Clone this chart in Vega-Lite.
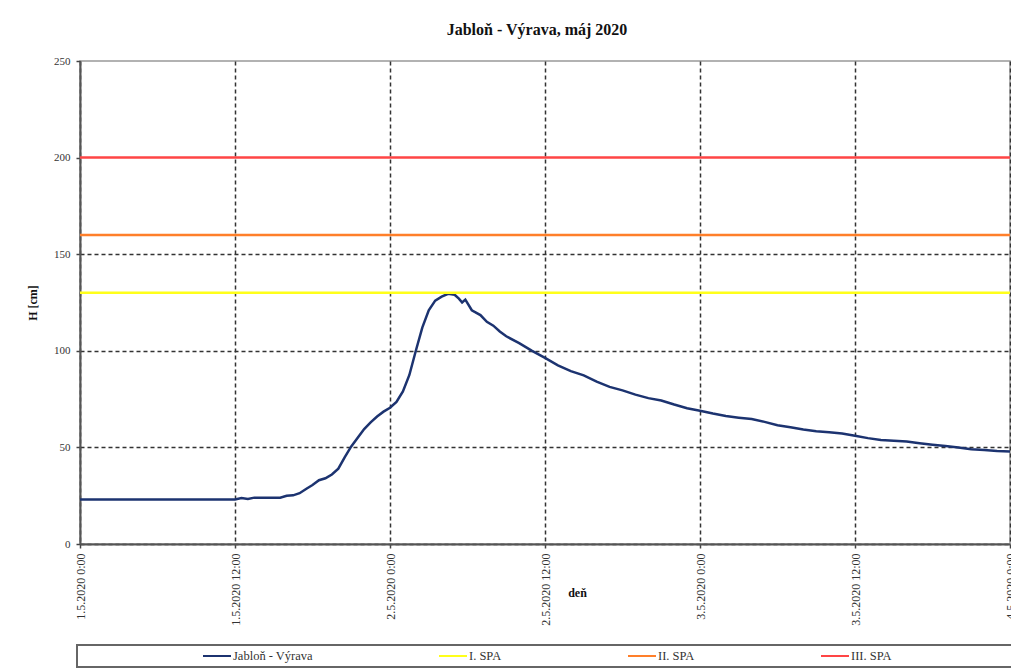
{
  "$schema": "https://vega.github.io/schema/vega-lite/v6.json",
  "autosize": "none",
  "width": 930,
  "height": 483,
  "padding": {"left": 80, "top": 61, "right": 1, "bottom": 125},
  "background": "white",
  "title": {
    "text": "Jabloň - Výrava, máj 2020",
    "font": "Liberation Serif",
    "fontSize": 16,
    "fontWeight": "bold",
    "color": "#111",
    "anchor": "middle",
    "offset": 17,
    "dx": -8
  },
  "config": {
    "view": {"stroke": "#999", "strokeWidth": 1.5},
    "axis": {
      "labelFont": "Liberation Serif",
      "labelFontSize": 11,
      "labelColor": "#333",
      "titleFont": "Liberation Serif",
      "titleFontWeight": "bold",
      "titleFontSize": 12,
      "titleColor": "#111",
      "domainColor": "#555",
      "domainWidth": 2,
      "tickColor": "#444",
      "tickSize": 4,
      "tickWidth": 1.5,
      "gridColor": "#333",
      "gridWidth": 1.5,
      "gridDash": [4, 3],
      "gridOpacity": 1
    },
    "legend": {
      "strokeColor": "#666",
      "strokeWidth": 2,
      "labelFont": "Liberation Serif",
      "titleFont": "Liberation Serif"
    }
  },
  "data": {
    "values": [
      {"t": "2020-05-01T00:00", "v": 23, "s": "Jabloň - Výrava"},
      {"t": "2020-05-01T03:00", "v": 23, "s": "Jabloň - Výrava"},
      {"t": "2020-05-01T06:00", "v": 23, "s": "Jabloň - Výrava"},
      {"t": "2020-05-01T09:00", "v": 23, "s": "Jabloň - Výrava"},
      {"t": "2020-05-01T12:00", "v": 23, "s": "Jabloň - Výrava"},
      {"t": "2020-05-01T12:30", "v": 23.8, "s": "Jabloň - Výrava"},
      {"t": "2020-05-01T13:00", "v": 23.3, "s": "Jabloň - Výrava"},
      {"t": "2020-05-01T13:30", "v": 24, "s": "Jabloň - Výrava"},
      {"t": "2020-05-01T14:00", "v": 24, "s": "Jabloň - Výrava"},
      {"t": "2020-05-01T15:00", "v": 24, "s": "Jabloň - Výrava"},
      {"t": "2020-05-01T15:30", "v": 24, "s": "Jabloň - Výrava"},
      {"t": "2020-05-01T16:00", "v": 25, "s": "Jabloň - Výrava"},
      {"t": "2020-05-01T16:30", "v": 25.2, "s": "Jabloň - Výrava"},
      {"t": "2020-05-01T17:00", "v": 26.3, "s": "Jabloň - Výrava"},
      {"t": "2020-05-01T17:30", "v": 28.5, "s": "Jabloň - Výrava"},
      {"t": "2020-05-01T18:00", "v": 30.5, "s": "Jabloň - Výrava"},
      {"t": "2020-05-01T18:30", "v": 33, "s": "Jabloň - Výrava"},
      {"t": "2020-05-01T19:00", "v": 34, "s": "Jabloň - Výrava"},
      {"t": "2020-05-01T19:30", "v": 36, "s": "Jabloň - Výrava"},
      {"t": "2020-05-01T20:00", "v": 39, "s": "Jabloň - Výrava"},
      {"t": "2020-05-01T20:30", "v": 45, "s": "Jabloň - Výrava"},
      {"t": "2020-05-01T21:00", "v": 50.5, "s": "Jabloň - Výrava"},
      {"t": "2020-05-01T21:30", "v": 55, "s": "Jabloň - Výrava"},
      {"t": "2020-05-01T22:00", "v": 59.5, "s": "Jabloň - Výrava"},
      {"t": "2020-05-01T22:30", "v": 63, "s": "Jabloň - Výrava"},
      {"t": "2020-05-01T23:00", "v": 66, "s": "Jabloň - Výrava"},
      {"t": "2020-05-01T23:30", "v": 68.5, "s": "Jabloň - Výrava"},
      {"t": "2020-05-02T00:00", "v": 70.5, "s": "Jabloň - Výrava"},
      {"t": "2020-05-02T00:30", "v": 73.5, "s": "Jabloň - Výrava"},
      {"t": "2020-05-02T01:00", "v": 79, "s": "Jabloň - Výrava"},
      {"t": "2020-05-02T01:30", "v": 87.5, "s": "Jabloň - Výrava"},
      {"t": "2020-05-02T02:00", "v": 100, "s": "Jabloň - Výrava"},
      {"t": "2020-05-02T02:30", "v": 112, "s": "Jabloň - Výrava"},
      {"t": "2020-05-02T03:00", "v": 121, "s": "Jabloň - Výrava"},
      {"t": "2020-05-02T03:30", "v": 126, "s": "Jabloň - Výrava"},
      {"t": "2020-05-02T04:00", "v": 128, "s": "Jabloň - Výrava"},
      {"t": "2020-05-02T04:30", "v": 129.5, "s": "Jabloň - Výrava"},
      {"t": "2020-05-02T05:00", "v": 129, "s": "Jabloň - Výrava"},
      {"t": "2020-05-02T05:20", "v": 127, "s": "Jabloň - Výrava"},
      {"t": "2020-05-02T05:35", "v": 125, "s": "Jabloň - Výrava"},
      {"t": "2020-05-02T05:50", "v": 126.5, "s": "Jabloň - Výrava"},
      {"t": "2020-05-02T06:20", "v": 121, "s": "Jabloň - Výrava"},
      {"t": "2020-05-02T07:00", "v": 118.5, "s": "Jabloň - Výrava"},
      {"t": "2020-05-02T07:30", "v": 115, "s": "Jabloň - Výrava"},
      {"t": "2020-05-02T08:00", "v": 113, "s": "Jabloň - Výrava"},
      {"t": "2020-05-02T08:30", "v": 110, "s": "Jabloň - Výrava"},
      {"t": "2020-05-02T09:00", "v": 107.5, "s": "Jabloň - Výrava"},
      {"t": "2020-05-02T10:00", "v": 104, "s": "Jabloň - Výrava"},
      {"t": "2020-05-02T11:00", "v": 100, "s": "Jabloň - Výrava"},
      {"t": "2020-05-02T12:00", "v": 96.3, "s": "Jabloň - Výrava"},
      {"t": "2020-05-02T13:00", "v": 92.5, "s": "Jabloň - Výrava"},
      {"t": "2020-05-02T14:00", "v": 89.5, "s": "Jabloň - Výrava"},
      {"t": "2020-05-02T15:00", "v": 87.3, "s": "Jabloň - Výrava"},
      {"t": "2020-05-02T16:00", "v": 84, "s": "Jabloň - Výrava"},
      {"t": "2020-05-02T17:00", "v": 81.3, "s": "Jabloň - Výrava"},
      {"t": "2020-05-02T18:00", "v": 79.5, "s": "Jabloň - Výrava"},
      {"t": "2020-05-02T19:00", "v": 77.3, "s": "Jabloň - Výrava"},
      {"t": "2020-05-02T20:00", "v": 75.5, "s": "Jabloň - Výrava"},
      {"t": "2020-05-02T21:00", "v": 74.3, "s": "Jabloň - Výrava"},
      {"t": "2020-05-02T22:00", "v": 72.2, "s": "Jabloň - Výrava"},
      {"t": "2020-05-02T23:00", "v": 70.3, "s": "Jabloň - Výrava"},
      {"t": "2020-05-03T00:00", "v": 69, "s": "Jabloň - Výrava"},
      {"t": "2020-05-03T01:00", "v": 67.5, "s": "Jabloň - Výrava"},
      {"t": "2020-05-03T02:00", "v": 66.2, "s": "Jabloň - Výrava"},
      {"t": "2020-05-03T03:00", "v": 65.4, "s": "Jabloň - Výrava"},
      {"t": "2020-05-03T04:00", "v": 64.7, "s": "Jabloň - Výrava"},
      {"t": "2020-05-03T05:00", "v": 63.2, "s": "Jabloň - Výrava"},
      {"t": "2020-05-03T06:00", "v": 61.5, "s": "Jabloň - Výrava"},
      {"t": "2020-05-03T07:00", "v": 60.4, "s": "Jabloň - Výrava"},
      {"t": "2020-05-03T08:00", "v": 59.3, "s": "Jabloň - Výrava"},
      {"t": "2020-05-03T09:00", "v": 58.4, "s": "Jabloň - Výrava"},
      {"t": "2020-05-03T10:00", "v": 57.9, "s": "Jabloň - Výrava"},
      {"t": "2020-05-03T11:00", "v": 57.2, "s": "Jabloň - Výrava"},
      {"t": "2020-05-03T12:00", "v": 56, "s": "Jabloň - Výrava"},
      {"t": "2020-05-03T13:00", "v": 54.8, "s": "Jabloň - Výrava"},
      {"t": "2020-05-03T14:00", "v": 53.8, "s": "Jabloň - Výrava"},
      {"t": "2020-05-03T15:00", "v": 53.4, "s": "Jabloň - Výrava"},
      {"t": "2020-05-03T16:00", "v": 53.1, "s": "Jabloň - Výrava"},
      {"t": "2020-05-03T17:00", "v": 52.2, "s": "Jabloň - Výrava"},
      {"t": "2020-05-03T18:00", "v": 51.4, "s": "Jabloň - Výrava"},
      {"t": "2020-05-03T19:00", "v": 50.7, "s": "Jabloň - Výrava"},
      {"t": "2020-05-03T20:00", "v": 49.9, "s": "Jabloň - Výrava"},
      {"t": "2020-05-03T21:00", "v": 49.1, "s": "Jabloň - Výrava"},
      {"t": "2020-05-03T22:00", "v": 48.7, "s": "Jabloň - Výrava"},
      {"t": "2020-05-03T23:00", "v": 48.2, "s": "Jabloň - Výrava"},
      {"t": "2020-05-04T00:00", "v": 47.9, "s": "Jabloň - Výrava"},
      {"t": "2020-05-01T00:00", "v": 130, "s": "I. SPA"},
      {"t": "2020-05-04T00:00", "v": 130, "s": "I. SPA"},
      {"t": "2020-05-01T00:00", "v": 160, "s": "II. SPA"},
      {"t": "2020-05-04T00:00", "v": 160, "s": "II. SPA"},
      {"t": "2020-05-01T00:00", "v": 200, "s": "III. SPA"},
      {"t": "2020-05-04T00:00", "v": 200, "s": "III. SPA"}
    ]
  },
  "mark": {"type": "line", "strokeWidth": 2.5, "clip": true},
  "encoding": {
    "x": {
      "field": "t",
      "type": "temporal",
      "scale": {"domain": [{"year": 2020, "month": 5, "date": 1, "hours": 0}, {"year": 2020, "month": 5, "date": 4, "hours": 0}]},
      "axis": {
        "values": [
          {"year": 2020, "month": 5, "date": 1, "hours": 0},
          {"year": 2020, "month": 5, "date": 1, "hours": 12},
          {"year": 2020, "month": 5, "date": 2, "hours": 0},
          {"year": 2020, "month": 5, "date": 2, "hours": 12},
          {"year": 2020, "month": 5, "date": 3, "hours": 0},
          {"year": 2020, "month": 5, "date": 3, "hours": 12},
          {"year": 2020, "month": 5, "date": 4, "hours": 0}
        ],
        "format": "%-d.%-m.%Y %-H:%M",
        "labelAngle": -90,
        "labelAlign": "right",
        "labelBaseline": "middle",
        "labelPadding": 5,
        "labelFontSize": 12,
        "labelOverlap": false,
        "labelFlush": false,
        "title": "deň",
        "titleX": 497,
        "titleY": 48,
        "titleBaseline": "middle",
        "titleAnchor": "start",
        "titleAlign": "center"
      }
    },
    "y": {
      "field": "v",
      "type": "quantitative",
      "scale": {"domain": [0, 250], "nice": false},
      "axis": {
        "values": [0, 50, 100, 150, 200, 250],
        "title": "H [cm]",
        "titlePadding": 14,
        "labelPadding": 6,
        "gridColor": {"condition": {"test": "datum.value >= 200", "value": "transparent"}, "value": "#333"}
      }
    },
    "color": {
      "field": "s",
      "type": "nominal",
      "scale": {
        "domain": ["Jabloň - Výrava", "I. SPA", "II. SPA", "III. SPA"],
        "range": ["#1c3370", "#ffff1a", "#ff7f2a", "#ff4545"]
      },
      "legend": {
        "orient": "none",
        "legendX": -3,
        "legendY": 584,
        "direction": "horizontal",
        "columns": 4,
        "gridAlign": "none",
        "columnPadding": 3,
        "symbolType": "stroke",
        "symbolSize": 784,
        "symbolStrokeWidth": 2,
        "symbolOffset": 122,
        "clipHeight": 16,
        "labelFont": "Liberation Serif",
        "labelFontSize": 12.5,
        "labelColor": "#333",
        "labelOffset": 1,
        "padding": 3,
        "title": "\u00a0",
        "titleOrient": "right",
        "titlePadding": 130,
        "titleFontSize": 6
      }
    }
  }
}
